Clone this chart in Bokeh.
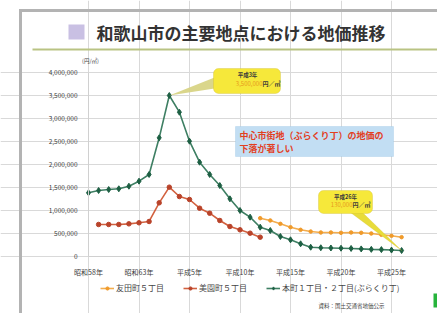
from bokeh.plotting import figure
from bokeh.models import (FixedTicker, NumeralTickFormatter, Label, Legend, LegendItem,
                          PolyAnnotation, BoxAnnotation)
from bokeh.embed import file_html
from bokeh.resources import INLINE

# ---------------- data ----------------
title_text = "和歌山市の主要地点における地価推移"
series_names = ["友田町５丁目", "美園町５丁目", "本町１丁目・２丁目(ぶらくり丁)"]

years_tomoda = list(range(2000, 2015))
tomoda = [833000, 783000, 710000, 637000, 580000, 543000, 522000, 522000,
          515000, 522000, 515000, 500000, 472000, 450000, 420000]

years_misono = list(range(1984, 2001))
misono = [696000, 696000, 696000, 710000, 733000, 761000, 1167000, 1507000,
          1304000, 1239000, 1050000, 941000, 783000, 652000, 580000, 507000, 420000]

years_honmachi = list(range(1983, 2015))
honmachi = [1385000, 1435000, 1456000, 1472000, 1528000, 1637000, 1783000, 2580000,
            3500000, 3137000, 2507000, 2050000, 1783000, 1543000, 1254000, 1000000,
            855000, 637000, 565000, 435000, 363000, 276000, 202000, 190000,
            185000, 180000, 175000, 165000, 155000, 150000, 140000, 130000]

tick_years = [1983, 1988, 1993, 1998, 2003, 2008, 2013]
tick_labels = ["昭和58年", "昭和63年", "平成5年", "平成10年", "平成15年", "平成20年", "平成25年"]
y_ticks = [0, 500000, 1000000, 1500000, 2000000, 2500000, 3000000, 3500000, 4000000]

peak_label = "平成3年"
last_label = "平成26年"
note_lines = ["中心市街地（ぶらくり丁）の地価の", "下落が著しい"]
unit_text = "(円/㎡)"
source_text = "資料：国土交通省地価公示"

FONT = "Noto Sans CJK JP"

# ---------------- layout helpers (screen px -> data) ----------------
W, H = 437, 313
PX_YEAR = 10.1
X0 = 88
Y0 = 256
PX_VAL = 184 / 4000000


def X(sx):
    return 1983 + (sx - X0) / PX_YEAR


def Y(sy):
    return (Y0 - sy) / PX_VAL


p = figure(width=W, height=H, output_backend="svg", toolbar_location=None,
           x_range=(X(0), X(W)), y_range=(Y(H), Y(0)),
           min_border=0, min_border_left=0, min_border_right=0,
           min_border_top=0, min_border_bottom=0)
p.background_fill_color = "white"
p.border_fill_color = "white"
p.outline_line_color = None

plot_right = X(402)

# ---------------- slide frame (drawn first, under everything) ----------------
p.quad(left=[X(18.5), X(18.5)], right=[X(W + 5), X(21.5)],
       top=[Y(8.5), Y(8.5)], bottom=[Y(11.5), Y(H + 5)],
       fill_color="#b3b3b3", line_color=None)

# axes fixed inside the frame
p.xaxis.fixed_location = 0
p.yaxis.fixed_location = tick_years[0]
p.xaxis.bounds = (tick_years[0], plot_right)
p.yaxis.bounds = (0, y_ticks[-1])
p.xaxis.ticker = FixedTicker(ticks=tick_years)
p.xaxis.major_label_overrides = {t: l for t, l in zip(tick_years, tick_labels)}
p.yaxis.ticker = FixedTicker(ticks=y_ticks)
p.yaxis.formatter = NumeralTickFormatter(format="0,0")
for ax in (p.xaxis, p.yaxis):
    ax.axis_line_color = "#d0d0d0"
    ax.major_tick_line_color = None
    ax.minor_tick_line_color = None
    ax.major_label_text_font = FONT
    ax.major_label_text_color = "#3c3c3c"
p.xaxis.major_label_text_font_size = "7px"
p.yaxis.major_label_text_font_size = "6.5px"
p.xaxis.major_label_standoff = 4
p.yaxis.major_label_standoff = 5
p.xgrid.ticker = FixedTicker(ticks=tick_years)
p.ygrid.ticker = FixedTicker(ticks=y_ticks)
p.xgrid.bounds = (0, y_ticks[-1])
p.ygrid.bounds = (tick_years[0], plot_right)
p.xgrid.grid_line_color = "#d9d9d9"
p.ygrid.grid_line_color = "#d9d9d9"

# ---------------- title ----------------
p.add_layout(BoxAnnotation(left=X(32), right=X(W + 5), top=Y(48), bottom=Y(50),
                           fill_color="#b9c383", fill_alpha=1, line_color=None))
p.add_layout(BoxAnnotation(left=X(68), right=X(84), top=Y(24), bottom=Y(39),
                           fill_color="#c9c0e3", fill_alpha=1, line_color=None))
p.add_layout(Label(x=X(96), y=Y(32), text=title_text, text_font=FONT, text_font_size="17px",
                   text_font_style="bold", text_color="#333333", text_align="left",
                   text_baseline="middle"))
p.add_layout(Label(x=X(90), y=Y(60), text=unit_text, text_font=FONT, text_font_size="5.5px",
                   text_color="#444444", text_align="center", text_baseline="middle"))
p.add_layout(Label(x=X(351), y=Y(305), text=source_text, text_font=FONT, text_font_size="5.5px",
                   text_color="#444444", text_align="center", text_baseline="middle"))
p.add_layout(BoxAnnotation(left=X(433), right=X(W + 5), top=Y(293), bottom=Y(307),
                           fill_color="#27b43c", fill_alpha=1, line_color=None))

# ---------------- series ----------------
specs = [
    (years_tomoda, tomoda, "#f3ad4e", "#f09a2a", "circle", 3.5),
    (years_misono, misono, "#d2613f", "#b9432a", "circle", 4.5),
    (years_honmachi, honmachi, "#3e7f63", "#1d5f43", "diamond", 6),
]
items = []
for (xs, ys, lc, mc, mk, ms), name in zip(specs, series_names):
    r1 = p.line(xs, ys, line_color=lc, line_width=1.6)
    r2 = p.scatter(xs, ys, marker=mk, size=ms, fill_color=mc, line_color=mc)
    items.append(LegendItem(label=name, renderers=[r1, r2]))

legend = Legend(items=items, orientation="horizontal", location=(100, 20),
                label_text_font=FONT, label_text_font_size="8px", label_text_color="#444444",
                glyph_width=14, glyph_height=8, label_standoff=2, spacing=19,
                padding=0, margin=0, border_line_color=None, background_fill_alpha=0)
p.add_layout(legend, "center")

# ---------------- callouts ----------------
peak_i = honmachi.index(max(honmachi))
peak_x, peak_y = years_honmachi[peak_i], honmachi[peak_i]
last_x, last_y = years_honmachi[-1], honmachi[-1]

# callout 1 (peak)
p.add_layout(PolyAnnotation(xs=[X(214), X(214), peak_x], ys=[Y(77), Y(88), peak_y],
                            fill_color="#d6d27e", fill_alpha=0.9, line_color=None))
p.add_layout(BoxAnnotation(left=X(213), right=X(280), top=Y(68), bottom=Y(93),
                           fill_color="#f6e83a", fill_alpha=1, line_color="#c9b52c",
                           line_width=1, border_radius=5))
p.add_layout(Label(x=X(247), y=Y(74.5), text=peak_label, text_font=FONT, text_font_size="5.5px",
                   text_font_style="bold", text_color="#3a3a3a", text_align="center",
                   text_baseline="middle"))
p.add_layout(Label(x=X(262), y=Y(83), text=f"{peak_y:,}", text_font=FONT, text_font_size="6px",
                   text_color="#e89a1c", text_align="right", text_baseline="middle"))
p.add_layout(Label(x=X(262), y=Y(83), text="円／㎡", text_font=FONT, text_font_size="6px",
                   text_font_style="bold", text_color="#3a3a3a", text_align="left",
                   text_baseline="middle"))

# callout 2 (last)
p.add_layout(PolyAnnotation(xs=[X(350), X(362), last_x], ys=[Y(212), Y(212), last_y],
                            fill_color="#e8dc3a", fill_alpha=1, line_color="#c9b52c", line_width=0.8))
p.add_layout(BoxAnnotation(left=X(318), right=X(372), top=Y(190), bottom=Y(213),
                           fill_color="#f6e83a", fill_alpha=1, line_color="#c9b52c",
                           line_width=1, border_radius=5))
p.add_layout(Label(x=X(345), y=Y(196.5), text=last_label, text_font=FONT, text_font_size="5.5px",
                   text_font_style="bold", text_color="#3a3a3a", text_align="center",
                   text_baseline="middle"))
p.add_layout(Label(x=X(352), y=Y(204), text=f"{last_y:,}", text_font=FONT, text_font_size="6px",
                   text_color="#e89a1c", text_align="right", text_baseline="middle"))
p.add_layout(Label(x=X(352), y=Y(204), text="円／㎡", text_font=FONT, text_font_size="6px",
                   text_font_style="bold", text_color="#3a3a3a", text_align="left",
                   text_baseline="middle"))

# note box
p.add_layout(BoxAnnotation(left=X(235), right=X(393), top=Y(126), bottom=Y(156),
                           fill_color="#c2def3", fill_alpha=1, line_color="#93c0e2", line_width=1))
p.add_layout(Label(x=X(239), y=Y(134.5), text=note_lines[0], text_font=FONT, text_font_size="9px",
                   text_font_style="bold", text_color="#e2401f", text_align="left",
                   text_baseline="middle"))
p.add_layout(Label(x=X(239), y=Y(148), text=note_lines[1], text_font=FONT, text_font_size="9px",
                   text_font_style="bold", text_color="#e2401f", text_align="left",
                   text_baseline="middle"))

open("out.html", "w").write(file_html(p, INLINE))
